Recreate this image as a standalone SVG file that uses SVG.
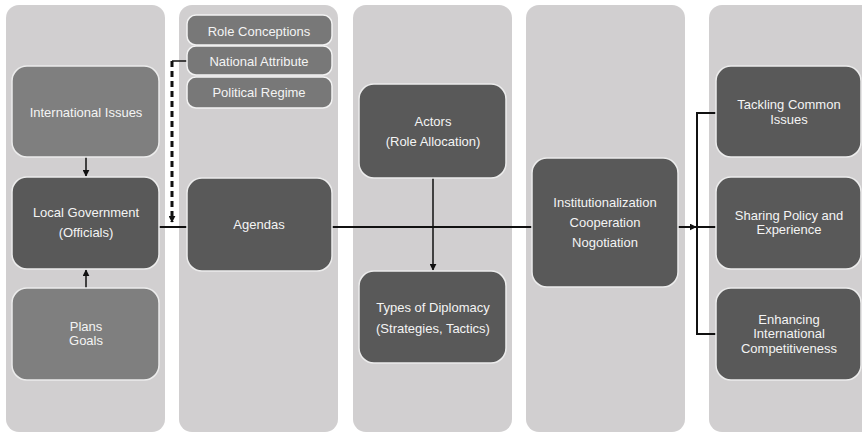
<svg xmlns="http://www.w3.org/2000/svg" width="862" height="433" viewBox="0 0 862 433">
<defs>
<style>
.col{fill:#d1cfd0;}
.dk{fill:#595959;stroke:#ececec;stroke-width:1.5;}
.md{fill:#7f7f7f;stroke:#ececec;stroke-width:1.5;}
.sm{fill:#787878;stroke:#f2f2f2;stroke-width:1.5;}
text{font-family:"Liberation Sans",Arial,sans-serif;font-size:13px;fill:#f4f4f4;text-anchor:middle;dominant-baseline:central;}
.ln{stroke:#111;stroke-width:2;fill:none;}
.thin{stroke:#111;stroke-width:1.5;fill:none;}
</style>
<marker id="ah" viewBox="0 0 10 10" refX="9" refY="5" markerWidth="7" markerHeight="7" markerUnits="userSpaceOnUse" orient="auto">
<path d="M0,0 L10,5 L0,10 z" fill="#111"/>
</marker>
</defs>
<rect width="862" height="433" fill="#ffffff"/>
<g id="columns">
<rect class="col" x="6" y="5" width="159" height="427" rx="13"/>
<rect class="col" x="179" y="5" width="159" height="427" rx="13"/>
<rect class="col" x="353" y="5" width="159" height="427" rx="13"/>
<rect class="col" x="526" y="5" width="159" height="427" rx="13"/>
<rect class="col" x="709" y="5" width="170" height="427" rx="13"/>
</g>
<g id="connectors">
<line class="thin" x1="86" y1="157" x2="86" y2="176" marker-end="url(#ah)"/>
<line class="thin" x1="86" y1="288" x2="86" y2="270" marker-end="url(#ah)"/>
<path class="thin" d="M187,61 H172"/>
<line x1="172" y1="61" x2="172" y2="222" stroke="#111" stroke-width="3" stroke-dasharray="6,4" marker-end="url(#ah)"/>
<line class="ln" x1="159" y1="227" x2="533" y2="227"/>
<line class="thin" x1="433" y1="178" x2="433" y2="270" marker-end="url(#ah)"/>
<line class="ln" x1="678" y1="227" x2="696" y2="227" marker-end="url(#ah)"/>
<path class="ln" d="M716,113 H697 V334 H716 M697,227 H716"/>
</g>
<g id="n-international">
<rect class="md" x="12" y="66" width="147" height="91" rx="15"/>
<text x="86" y="112">International Issues</text>
</g>
<g id="n-localgov">
<rect class="dk" x="12" y="177" width="147" height="92" rx="15"/>
<text x="86" y="212">Local Government</text>
<text x="86" y="232">(Officials)</text>
</g>
<g id="n-plans">
<rect class="md" x="12" y="288" width="147" height="92" rx="15"/>
<text x="86" y="326">Plans</text>
<text x="86" y="340">Goals</text>
</g>
<g id="n-role">
<rect class="sm" x="187" y="15" width="145" height="30" rx="9"/>
<text x="259" y="31">Role Conceptions</text>
</g>
<g id="n-national">
<rect class="sm" x="187" y="46" width="145" height="29" rx="9"/>
<text x="259" y="61">National Attribute</text>
</g>
<g id="n-political">
<rect class="sm" x="187" y="77" width="145" height="31" rx="9"/>
<text x="259" y="92">Political Regime</text>
</g>
<g id="n-agendas">
<rect class="dk" x="187" y="178" width="145" height="93" rx="15"/>
<text x="259" y="224">Agendas</text>
</g>
<g id="n-actors">
<rect class="dk" x="359" y="84" width="147" height="94" rx="15"/>
<text x="433" y="121">Actors</text>
<text x="433" y="141">(Role Allocation)</text>
</g>
<g id="n-types">
<rect class="dk" x="359" y="271" width="147" height="92" rx="15"/>
<text x="433" y="307">Types of Diplomacy</text>
<text x="433" y="328">(Strategies, Tactics)</text>
</g>
<g id="n-inst">
<rect class="dk" x="532" y="158" width="146" height="129" rx="15"/>
<text x="605" y="202">Institutionalization</text>
<text x="605" y="222">Cooperation</text>
<text x="605" y="242">Nogotiation</text>
</g>
<g id="n-tackling">
<rect class="dk" x="716" y="66" width="145" height="91" rx="15"/>
<text x="789" y="104">Tackling Common</text>
<text x="789" y="119">Issues</text>
</g>
<g id="n-sharing">
<rect class="dk" x="716" y="177" width="145" height="92" rx="15"/>
<text x="789" y="215">Sharing Policy and</text>
<text x="789" y="229">Experience</text>
</g>
<g id="n-enhancing">
<rect class="dk" x="716" y="288" width="145" height="92" rx="15"/>
<text x="789" y="319">Enhancing</text>
<text x="789" y="333">International</text>
<text x="789" y="348">Competitiveness</text>
</g>
</svg>
